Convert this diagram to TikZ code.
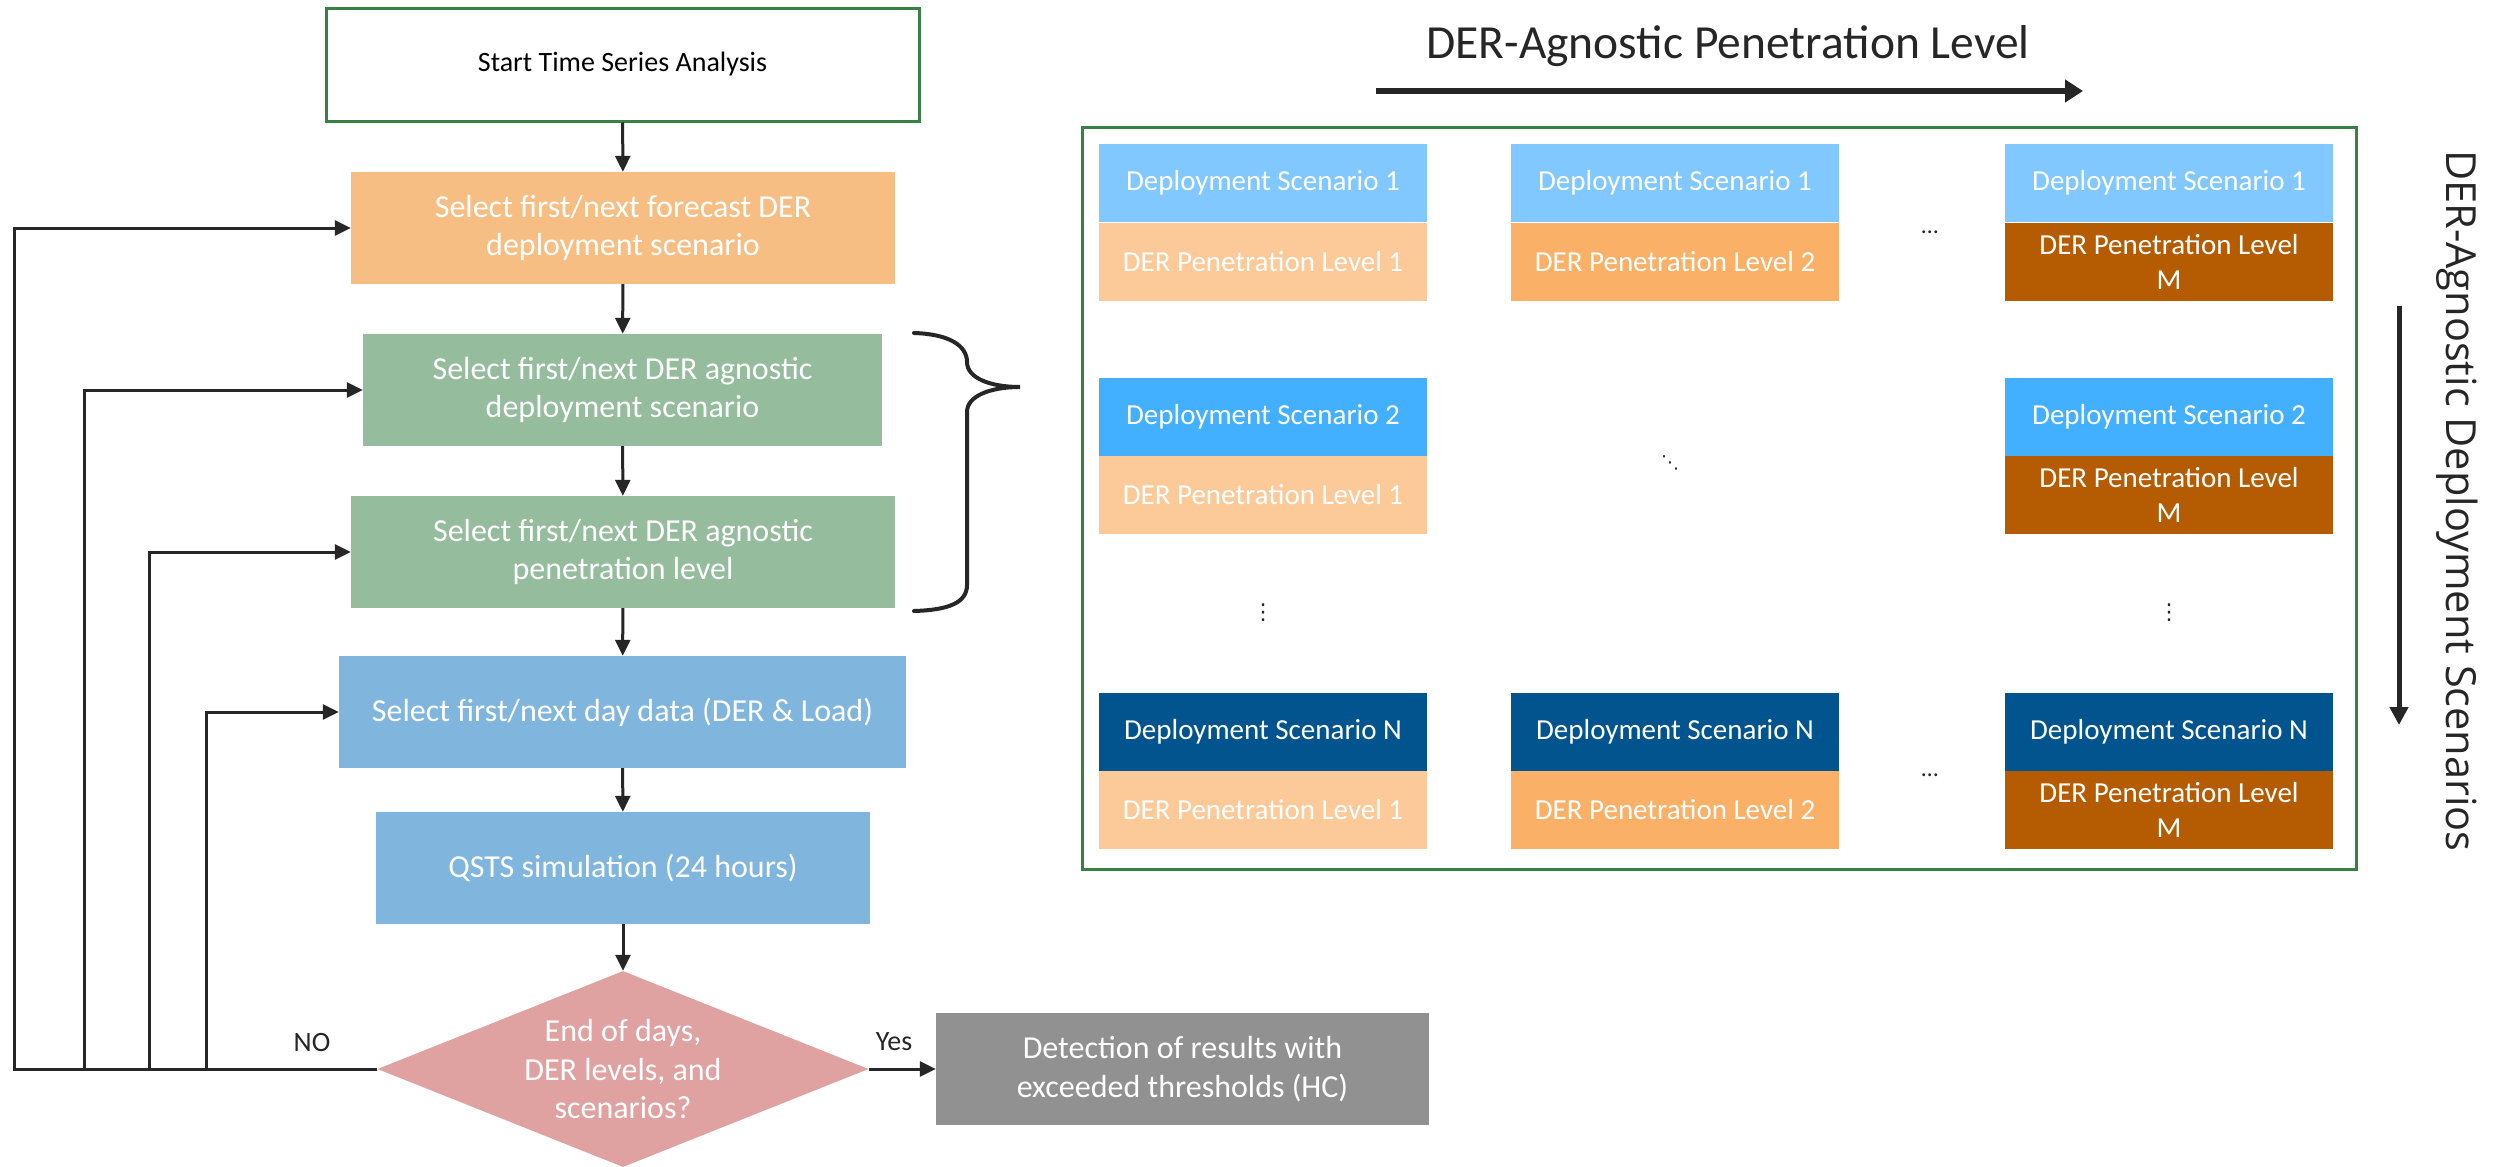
\documentclass[tikz,border=0pt]{standalone}
\usepackage{fontspec}
\setmainfont{Carlito}
\newfontfamily\sidefont{Open Sans}
\newfontfamily\glyphfont{DejaVu Sans}
\usetikzlibrary{arrows.meta,shapes.geometric}

\definecolor{ink}{RGB}{38,38,38}
\definecolor{frameg}{RGB}{56,128,68}
\definecolor{forecastc}{RGB}{247,190,132}
\definecolor{agnosticc}{RGB}{148,188,157}
\definecolor{dayc}{RGB}{128,182,222}
\definecolor{decisionc}{RGB}{224,161,161}
\definecolor{resultc}{RGB}{145,145,145}
\definecolor{scenA}{RGB}{128,200,255}
\definecolor{scenB}{RGB}{66,175,255}
\definecolor{scenC}{RGB}{2,84,142}
\definecolor{levA}{RGB}{252,201,153}
\definecolor{levB}{RGB}{250,176,102}
\definecolor{levC}{RGB}{181,92,2}

\tikzset{
  flow/.style={rectangle, inner sep=0pt, text=white, align=center,
    font=\fontsize{32}{38.4}\selectfont},
  cell/.style={rectangle, inner sep=0pt, minimum width=328pt, minimum height=78.5pt,
    text=white, align=center, font=\fontsize{29}{35}\selectfont},
  conn/.style={draw=ink, line width=3pt},
  arr/.style={conn, -{Triangle[length=16pt,width=15pt]}},
  lbl/.style={text=ink, font=\fontsize{28}{34}\selectfont},
  dots/.style={text=ink, inner sep=0pt, font=\fontsize{24}{24}\selectfont},
  vdotsty/.style={text=ink, inner sep=0pt, font=\glyphfont\fontsize{22}{22}\selectfont},
}

\begin{document}
\begin{tikzpicture}[x=1pt,y=-1pt]
\fill[white] (0,0) rectangle (2493,1167);
\useasboundingbox (0,0) rectangle (2493,1167);

% ---------------- flowchart ----------------
\node[flow, draw=frameg, line width=3pt, fill=white, text=black,
  font=\fontsize{28}{34}\selectfont,
  minimum width=593pt, minimum height=113pt] (start) at (622.5,64.5)
  {Start Time Series Analysis};
\node[flow, fill=forecastc, minimum width=544pt, minimum height=112pt] (forecast) at (623,228)
  {Select first/next forecast DER\\deployment scenario};
\node[flow, fill=agnosticc, minimum width=519pt, minimum height=112pt] (agdep) at (622.5,390)
  {Select first/next DER agnostic\\deployment scenario};
\node[flow, fill=agnosticc, minimum width=544pt, minimum height=112pt] (agpen) at (623,552)
  {Select first/next DER agnostic\\penetration level};
\node[flow, fill=dayc, minimum width=567pt, minimum height=112pt] (day) at (622.5,712)
  {Select first/next day data (DER \& Load)};
\node[flow, fill=dayc, minimum width=494pt, minimum height=112pt] (qsts) at (623,868)
  {QSTS simulation (24 hours)};
\node[flow, diamond, shape aspect=2.5, fill=decisionc,
  minimum width=491pt, minimum height=196pt] (dec) at (623,1069)
  {End of days,\\DER levels, and\\scenarios?};
\node[flow, fill=resultc, minimum width=493pt, minimum height=112pt] (result) at (1182.5,1069)
  {Detection of results with\\exceeded thresholds (HC)};

\draw[arr] (start) -- (forecast);
\draw[arr] (forecast) -- (agdep);
\draw[arr] (agdep) -- (agpen);
\draw[arr] (agpen) -- (day);
\draw[arr] (day) -- (qsts);
\draw[arr] (qsts) -- (dec);
\draw[arr] (dec.east) -- (result.west);

% feedback loops
\coordinate (loopA) at (14,228);
\coordinate (loopB) at (84,390);
\coordinate (loopC) at (149,552);
\coordinate (loopD) at (206,712);
\draw[arr] (dec.west) -| (loopA) -- (forecast.west);
\draw[arr] (dec.west) -| (loopB) -- (agdep.west);
\draw[arr] (dec.west) -| (loopC) -- (agpen.west);
\draw[arr] (dec.west) -| (loopD) -- (day.west);

\node[lbl] (no) at (312,1042) {NO};
\node[lbl] (yes) at (894,1042) {Yes};

% brace grouping the agnostic steps
\draw[draw=ink, line width=4pt, line cap=round]
  (914,333) .. controls (948,334) and (967,345) .. (967,362)
  .. controls (967,378) and (990,387) .. (1020,387)
  .. controls (990,387) and (967,396) .. (967,412)
  -- (967,585)
  .. controls (967,603) and (948,610) .. (914,611);

% ---------------- scenario grid ----------------
\node[text=ink, font=\fontsize{47.5}{56}\selectfont] (ptitle) at (1728,46)
  {DER-Agnostic Penetration Level};
\coordinate (pa) at (1376,91);
\coordinate (pb) at (2083,91);
\draw[draw=ink, line width=6pt, -{Triangle[length=18pt,width=22pt]}] (pa) -- (pb);

\draw[draw=frameg, line width=3pt] (1082,127) rectangle (2356,869);

% row 1
\node[cell, fill=scenA] (d11) at (1263,183) {Deployment Scenario 1};
\node[cell, fill=levA]  (p11) at (1263,262) {DER Penetration Level 1};
\node[cell, fill=scenA] (d12) at (1675,183) {Deployment Scenario 1};
\node[cell, fill=levB]  (p12) at (1675,262) {DER Penetration Level 2};
\node[cell, fill=scenA] (d13) at (2169,183) {Deployment Scenario 1};
\node[cell, fill=levC]  (p13) at (2169,262) {DER Penetration Level\\M};
% row 2
\node[cell, fill=scenB] (d21) at (1263,417) {Deployment Scenario 2};
\node[cell, fill=levA]  (p21) at (1263,495) {DER Penetration Level 1};
\node[cell, fill=scenB] (d23) at (2169,417) {Deployment Scenario 2};
\node[cell, fill=levC]  (p23) at (2169,495) {DER Penetration Level\\M};
% row N
\node[cell, fill=scenC] (d31) at (1263,732) {Deployment Scenario N};
\node[cell, fill=levA]  (p31) at (1263,810) {DER Penetration Level 1};
\node[cell, fill=scenC] (d32) at (1675,732) {Deployment Scenario N};
\node[cell, fill=levB]  (p32) at (1675,810) {DER Penetration Level 2};
\node[cell, fill=scenC] (d33) at (2169,732) {Deployment Scenario N};
\node[cell, fill=levC]  (p33) at (2169,810) {DER Penetration Level\\M};

% ellipses between cells
\node[dots] (h1) at (1930,232) {…};
\node[dots] (h3) at (1930,775) {…};
\node[vdotsty, font=\glyphfont\fontsize{18}{18}\selectfont] (dg) at (1670,463) {⋱};
\node[vdotsty] (v1) at (1263,613) {⋮};
\node[vdotsty] (v3) at (2169,613) {⋮};

% side axis
\coordinate (sa) at (2399,306);
\coordinate (sb) at (2399,725);
\draw[draw=ink, line width=5pt, -{Triangle[length=18pt,width=18pt]}] (sa) -- (sb);
\node[rotate=-90, text=ink, font=\sidefont\fontsize{41.5}{48}\selectfont] (stitle) at (2457,501)
  {DER-Agnostic Deployment Scenarios};

\end{tikzpicture}
\end{document}
